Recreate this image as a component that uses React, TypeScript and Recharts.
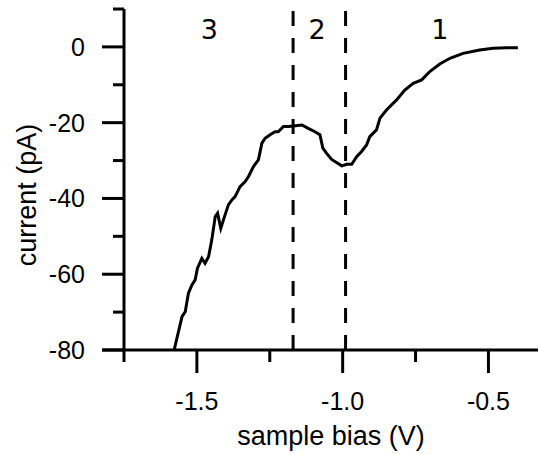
import React from "react";
import {
  LineChart,
  Line,
  XAxis,
  YAxis,
  ReferenceLine,
  ReferenceDot,
  Label,
} from "recharts";

const biasV = [
  -1.578, -1.551, -1.54, -1.529, -1.517, -1.506, -1.498, -1.483, -1.472, -1.46,
  -1.449, -1.437, -1.429, -1.418, -1.407, -1.392, -1.38, -1.369, -1.352, -1.335,
  -1.323, -1.306, -1.289, -1.277, -1.266, -1.249, -1.232, -1.221, -1.203, -1.186,
  -1.169, -1.14, -1.118, -1.095, -1.078, -1.068, -1.055, -1.038, -1.021, -1.003,
  -0.986, -0.969, -0.952, -0.935, -0.918, -0.907, -0.884, -0.872, -0.849, -0.815,
  -0.787, -0.758, -0.729, -0.701, -0.667, -0.632, -0.587, -0.53, -0.484, -0.438,
  -0.399,
];
const currentPA = [
  -80, -71.2, -69.9, -65.0, -62.8, -61.5, -58.4, -55.8, -57.1, -55.4,
  -51.0, -44.8, -43.9, -47.9, -45.2, -41.7, -40.4, -39.5, -36.9, -35.6,
  -34.2, -31.6, -29.8, -25.4, -24.1, -23.2, -22.4, -22.4, -21.0, -21.0,
  -20.9, -20.6, -21.5, -22.4, -23.2, -26.7, -28.1, -29.7, -30.5, -31.4,
  -31.0, -31.0, -29.0, -27.6, -25.9, -23.7, -21.9, -18.8, -16.6, -14.0,
  -11.4, -9.6, -8.7, -6.5, -4.5, -3.0, -1.7, -0.8, -0.35, -0.2,
  -0.2,
];

const xTicks = [-1.75, -1.5, -1.25, -1.0, -0.75, -0.5];
const xMajor = [-1.5, -1.0, -0.5];
const yTicks = [10, 0, -10, -20, -30, -40, -50, -60, -70, -80];
const yMajor = [0, -20, -40, -60, -80];

const boundaries = [-1.17, -0.99];
const regionLabels = ["3", "2", "1"];
const regionX = [-1.457, -1.088, -0.667];
const regionY = 4.7;

const data = biasV.map((v, i) => ({ v, i: currentPA[i] }));

const XTick = (props: any) => {
  const { x, y, payload } = props;
  const major = xMajor.some((m) => Math.abs(m - payload.value) < 1e-6);
  return (
    <g>
      <line x1={x} y1={y} x2={x} y2={y + (major ? 23 : 12)} stroke="#000" strokeWidth={3} />
      {major && (
        <text x={x} y={y + 60} textAnchor="middle" fontSize={25} fill="#000"
          fontFamily="'Liberation Sans', Arial, sans-serif">
          {payload.value.toFixed(1)}
        </text>
      )}
    </g>
  );
};

const YTick = (props: any) => {
  const { x, y, payload } = props;
  const major = yMajor.includes(payload.value);
  return (
    <g>
      <line x1={x - (major ? 22 : 11)} y1={y} x2={x} y2={y} stroke="#000" strokeWidth={3} />
      {major && (
        <text x={x - 39} y={y + 9} textAnchor="end" fontSize={25} fill="#000"
          fontFamily="'Liberation Sans', Arial, sans-serif">
          {payload.value}
        </text>
      )}
    </g>
  );
};

export default function App() {
  return (
    <div style={{ position: "absolute", left: 0, top: 0, background: "#fff" }}>
      <LineChart
        width={539}
        height={454}
        data={data}
        margin={{ top: 9, right: 1, left: 0, bottom: 0 }}
      >
        <XAxis
          dataKey="v"
          type="number"
          domain={[-1.75, -0.33]}
          allowDataOverflow
          ticks={xTicks}
          interval={0}
          tickSize={0}
          tickMargin={0}
          tickLine={false}
          tick={<XTick />}
          axisLine={{ stroke: "#000", strokeWidth: 3 }}
          height={104}
        >
          <Label
            value="sample bias (V)"
            position="insideBottom"
            offset={9}
            fontSize={27}
            fill="#000"
            fontFamily="'Liberation Sans', Arial, sans-serif"
          />
        </XAxis>
        <YAxis
          type="number"
          domain={[-80, 10]}
          allowDataOverflow
          ticks={yTicks}
          interval={0}
          tickSize={0}
          tickMargin={0}
          tickLine={false}
          tick={<YTick />}
          axisLine={{ stroke: "#000", strokeWidth: 3 }}
          width={124}
        >
          <Label
            content={() => (
              <text
                x={27}
                y={195}
                transform="rotate(-90 27 195)"
                textAnchor="middle"
                dominantBaseline="central"
                fontSize={27}
                fill="#000"
                fontFamily="'Liberation Sans', Arial, sans-serif"
              >
                current (pA)
              </text>
            )}
          />
        </YAxis>
        <ReferenceLine
          segment={[
            { x: -1.825, y: -80 },
            { x: -1.75, y: -80 },
          ]}
          ifOverflow="visible"
          stroke="#000"
          strokeWidth={3}
        />
        {boundaries.map((b) => (
          <ReferenceLine
            key={b}
            x={b}
            stroke="#000"
            strokeWidth={3}
            strokeDasharray="15 12"
          />
        ))}
        {regionLabels.map((t, k) => (
          <ReferenceDot
            key={t}
            x={regionX[k]}
            y={regionY}
            r={0}
            fill="none"
            stroke="none"
            label={{
              value: t,
              position: "center",
              fontSize: 27,
              fill: "#000",
              fontFamily: "'DejaVu Sans', Verdana, sans-serif",
            }}
          />
        ))}
        <Line
          dataKey="i"
          type="linear"
          stroke="#000"
          strokeWidth={3}
          dot={false}
          isAnimationActive={false}
        />
      </LineChart>
    </div>
  );
}
